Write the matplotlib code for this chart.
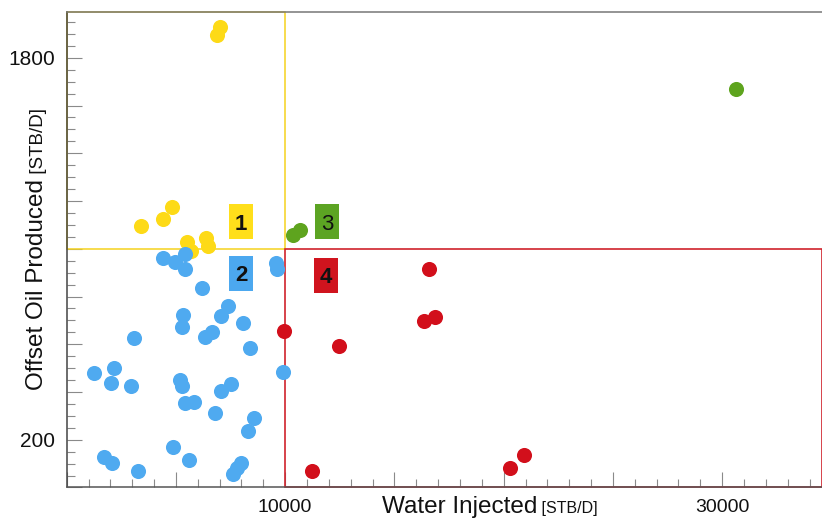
import matplotlib
matplotlib.use("Agg")
import matplotlib.pyplot as plt
from matplotlib.patches import Rectangle
from matplotlib.ticker import MultipleLocator, FuncFormatter

plt.rcParams['font.family'] = ['Liberation Sans', 'DejaVu Sans']

# quadrant 1: low water, high oil
q1_water = [7016, 6892, 3400, 4407, 4833, 5492, 5689, 6362, 6453]
q1_oil = [1927, 1894, 1095, 1123, 1174, 1027, 992, 1045, 1013]

# quadrant 2: low water, low oil
q2_water = [4394, 4957, 5414, 5414, 6178, 9579, 9611, 7368, 7048, 5309,
            5263, 8082, 6636, 6330, 3094, 8389, 1249, 2165, 2027, 2943,
            5185, 5263, 9886, 7519, 7048, 5414, 5840, 6787, 8572, 8311,
            4879, 5611, 1707, 2059, 3277, 7597, 7963, 7780]
q2_oil = [960, 946, 976, 914, 837, 942, 914, 761, 718, 723,
          671, 688, 653, 629, 627, 586, 478, 499, 439, 426,
          450, 425, 485, 432, 404, 353, 357, 311, 292, 238,
          171, 115, 127, 101, 70, 55, 101, 80]

# quadrant 3: high water, high oil
q3_water = [10371, 10677, 30632]
q3_oil = [1058, 1079, 1668]

# quadrant 4: high water, low oil
q4_water = [16595, 16352, 16856, 9959, 12476, 11240, 20288, 20943]
q4_oil = [914, 699, 713, 657, 594, 69, 80, 136]

water_cut = 10000
oil_cut = 1000

yellow = '#FDDA17'
blue = '#4FAAF0'
green = '#5EA41E'
red = '#D20F1B'

fig = plt.figure(figsize=(8.22, 5.18), dpi=100)
ax = fig.add_axes([0.0811, 0.0589, 0.9189, 0.9185])
xmax, ymax = 34570, 1993
ax.set_xlim(0, xmax)
ax.set_ylim(0, ymax)

# quadrant borders
ax.add_patch(Rectangle((0, oil_cut), water_cut, ymax - oil_cut, fill=False,
                       edgecolor='#F5D21E', lw=1.1, zorder=2, clip_on=False))
ax.add_patch(Rectangle((water_cut, 0), xmax - water_cut, oil_cut, fill=False,
                       edgecolor='#D0222C', lw=1.2, zorder=2, clip_on=False))

s = 118
ax.scatter(q1_water, q1_oil, s=s, color=yellow, linewidths=0, zorder=3)
ax.scatter(q2_water, q2_oil, s=s, color=blue, linewidths=0, zorder=3)
ax.scatter(q3_water, q3_oil, s=s, color=green, linewidths=0, zorder=3)
ax.scatter(q4_water, q4_oil, s=s, color=red, linewidths=0, zorder=3)

# quadrant tags (box about 24 x 35 px)
bw, bh = 1098, 147
tags = [('1', 7991, 1113, '#FFDF1B', 'bold'),
        ('2', 7991, 897, '#4CA8EF', 'bold'),
        ('3', 11927, 1113, '#5CA423', 'normal'),
        ('4', 11867, 889, '#D0141E', 'bold')]
for txt, tx, ty, col, w in tags:
    ax.add_patch(Rectangle((tx - bw / 2, ty - bh / 2), bw, bh, fc=col,
                           ec='none', zorder=4))
    ax.text(tx, ty, txt, fontsize=16, fontweight=w, ha='center',
            va='center_baseline', zorder=5, color='#111111')

# ticks
ax.xaxis.set_major_locator(MultipleLocator(5000))
ax.xaxis.set_minor_locator(MultipleLocator(1000))
ax.yaxis.set_major_locator(MultipleLocator(200))
ax.yaxis.set_minor_locator(MultipleLocator(50))
ax.xaxis.set_major_formatter(FuncFormatter(
    lambda v, p: f'{v:.0f}' if round(v) in (10000, 30000) else ''))
ax.yaxis.set_major_formatter(FuncFormatter(
    lambda v, p: f'{v:.0f}' if round(v) in (200, 1800) else ''))
ax.tick_params(which='both', direction='in', color='#8a8a8a', width=0.8,
               labelcolor='#111111')
ax.tick_params(which='major', length=11)
ax.tick_params(which='minor', length=5.5)
ax.tick_params(axis='x', pad=8.5, labelsize=14)
ax.tick_params(axis='y', pad=8.6, labelsize=15)

ax.spines['right'].set_visible(False)
ax.spines['left'].set_color('#444444')
ax.spines['bottom'].set_color('#555555')
ax.spines['top'].set_color('#777777')
for sp in ['left', 'bottom', 'top']:
    ax.spines[sp].set_linewidth(1.1)

# axis titles with smaller unit text
W, H = 822, 518
xt = fig.text(382 / W, 5 / H, 'Water Injected', fontsize=17.5,
              ha='left', va='baseline', color='#111111')
yt = fig.text(43 / W, (H - 390) / H, 'Offset Oil Produced', fontsize=17.5,
              rotation=90, rotation_mode='anchor', ha='left', va='baseline',
              color='#111111')
fig.canvas.draw()
bx = xt.get_window_extent()
by = yt.get_window_extent()
fig.text(bx.x1 / W, 5 / H, ' [STB/D]', fontsize=11.5, ha='left',
         va='baseline', color='#111111')
fig.text(43 / W, by.y1 / H, ' [STB/D]', fontsize=13.5, rotation=90,
         rotation_mode='anchor', ha='left', va='baseline', color='#111111')

fig.savefig('out.png', dpi=100)
